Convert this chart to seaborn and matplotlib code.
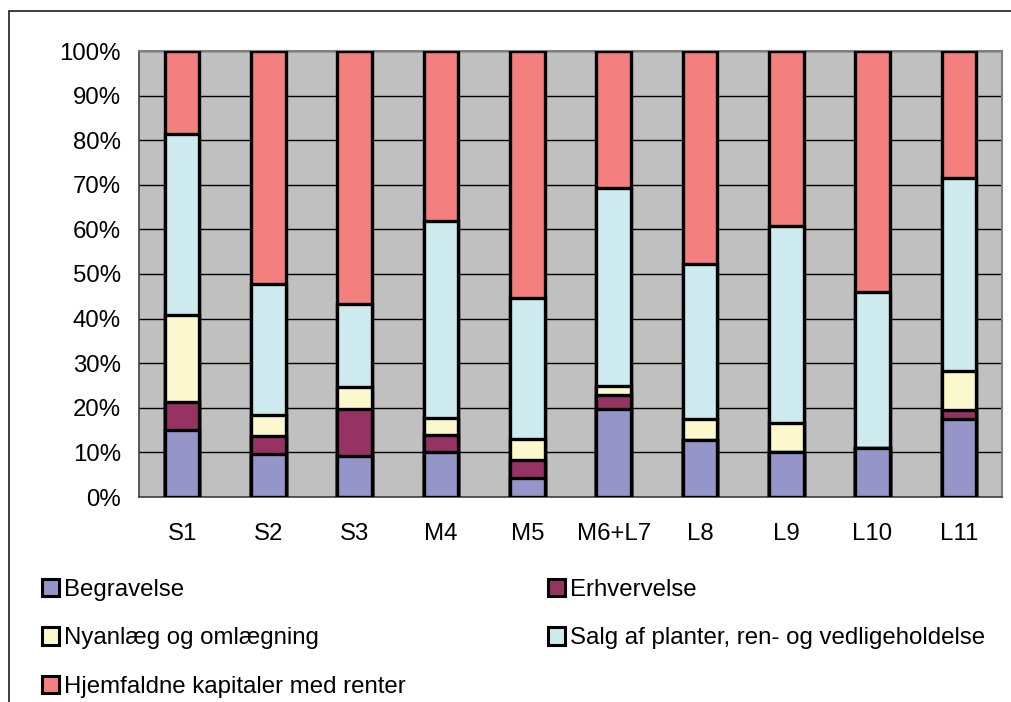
import numpy as np
import pandas as pd
import matplotlib
matplotlib.use("Agg")
import matplotlib.pyplot as plt
from matplotlib.patches import Patch
from matplotlib.lines import Line2D
import seaborn as sns

categories = ["S1", "S2", "S3", "M4", "M5", "M6+L7", "L8", "L9", "L10", "L11"]
begravelse = [15.1, 9.7, 9.2, 10.2, 4.3, 19.8, 12.8, 10.1, 11.0, 17.4]
erhvervelse = [6.3, 4.0, 10.5, 3.8, 3.9, 3.0, 0.0, 0.0, 0.0, 2.0]
nyanlaeg = [19.4, 4.7, 5.0, 3.7, 4.8, 2.0, 4.7, 6.4, 0.0, 8.8]
salg = [40.7, 29.4, 18.5, 44.1, 31.6, 44.5, 34.7, 44.3, 34.9, 43.3]
hjemfaldne = [18.5, 52.2, 56.8, 38.2, 55.4, 30.7, 47.8, 39.2, 54.1, 28.5]

series_names = ["Begravelse", "Erhvervelse", "Nyanlæg og omlægning",
                "Salg af planter, ren- og vedligeholdelse",
                "Hjemfaldne kapitaler med renter"]
series_values = [begravelse, erhvervelse, nyanlaeg, salg, hjemfaldne]
colors = ["#9595C9", "#963363", "#FAF8CC", "#CDEAEE", "#F47F7F"]

sns.set_theme(style="white")
plt.rcParams['font.family'] = ['Liberation Sans', 'DejaVu Sans']
plt.rcParams['text.color'] = 'black'
plt.rcParams['xtick.color'] = 'black'
plt.rcParams['ytick.color'] = 'black'
FS = 17.3

fig = plt.figure(figsize=(10.11, 7.02), dpi=100)
W, H = 1011, 702
ax = fig.add_axes([139 / W, (H - 497) / H, 863 / W, 446 / H])
ax.set_facecolor("#C0C0C0")

arr = np.array(series_values, dtype=float)
cum = np.cumsum(arr, axis=0)
for i in range(len(series_names) - 1, -1, -1):
    df = pd.DataFrame({"cat": categories, "val": cum[i]})
    sns.barplot(data=df, x="cat", y="val", order=categories, color=colors[i],
                width=0.4, edgecolor="black", linewidth=2.4, saturation=1,
                ax=ax, zorder=3)

ax.set_xlim(-0.5, len(categories) - 0.5)
ax.set_ylim(0, 100)
ax.set_yticks(np.arange(0, 101, 10))
ax.set_yticklabels([f"{v}%" for v in range(0, 101, 10)], fontsize=FS)
ax.set_xticks(range(len(categories)))
ax.set_xticklabels(categories, fontsize=FS)
ax.set_xticks(np.arange(-0.5, len(categories), 1), minor=True)
ax.tick_params(axis="x", which="major", length=0, pad=19, colors="black")
ax.tick_params(axis="x", which="minor", length=6, width=1, color="black", direction="out")
ax.tick_params(axis="y", which="major", length=5, width=1, color="black", direction="out", pad=8)
ax.set_xlabel("")
ax.set_ylabel("")
ax.yaxis.grid(True, color="black", linewidth=1)
ax.xaxis.grid(False)
ax.set_axisbelow(True)
for s in ["top", "right"]:
    ax.spines[s].set_color("#808080")
    ax.spines[s].set_linewidth(1.5)
for s in ["left", "bottom"]:
    ax.spines[s].set_color("#404040")
    ax.spines[s].set_linewidth(1.2)

fig.add_artist(Line2D([9 / W, 9 / W], [0, (H - 11) / H], transform=fig.transFigure,
                      color="#303030", linewidth=1.3))
fig.add_artist(Line2D([9 / W, 1.0], [(H - 11) / H, (H - 11) / H], transform=fig.transFigure,
                      color="#303030", linewidth=1.3))

handles = [Patch(facecolor=c, edgecolor="black", linewidth=2.2) for c in colors]
common = dict(frameon=False, fontsize=FS, handlelength=0.72, handleheight=0.72,
              handletextpad=0.2, labelspacing=1.1, borderpad=0, borderaxespad=0)
leg1 = fig.legend([handles[0], handles[2], handles[4]],
                  [series_names[0], series_names[2], series_names[4]],
                  loc="upper left", bbox_to_anchor=(42 / W, (H - 579) / H), **common)
leg2 = fig.legend([handles[1], handles[3]],
                  [series_names[1], series_names[3]],
                  loc="upper left", bbox_to_anchor=(548 / W, (H - 579) / H), **common)

fig.savefig("out.png", dpi=100)
